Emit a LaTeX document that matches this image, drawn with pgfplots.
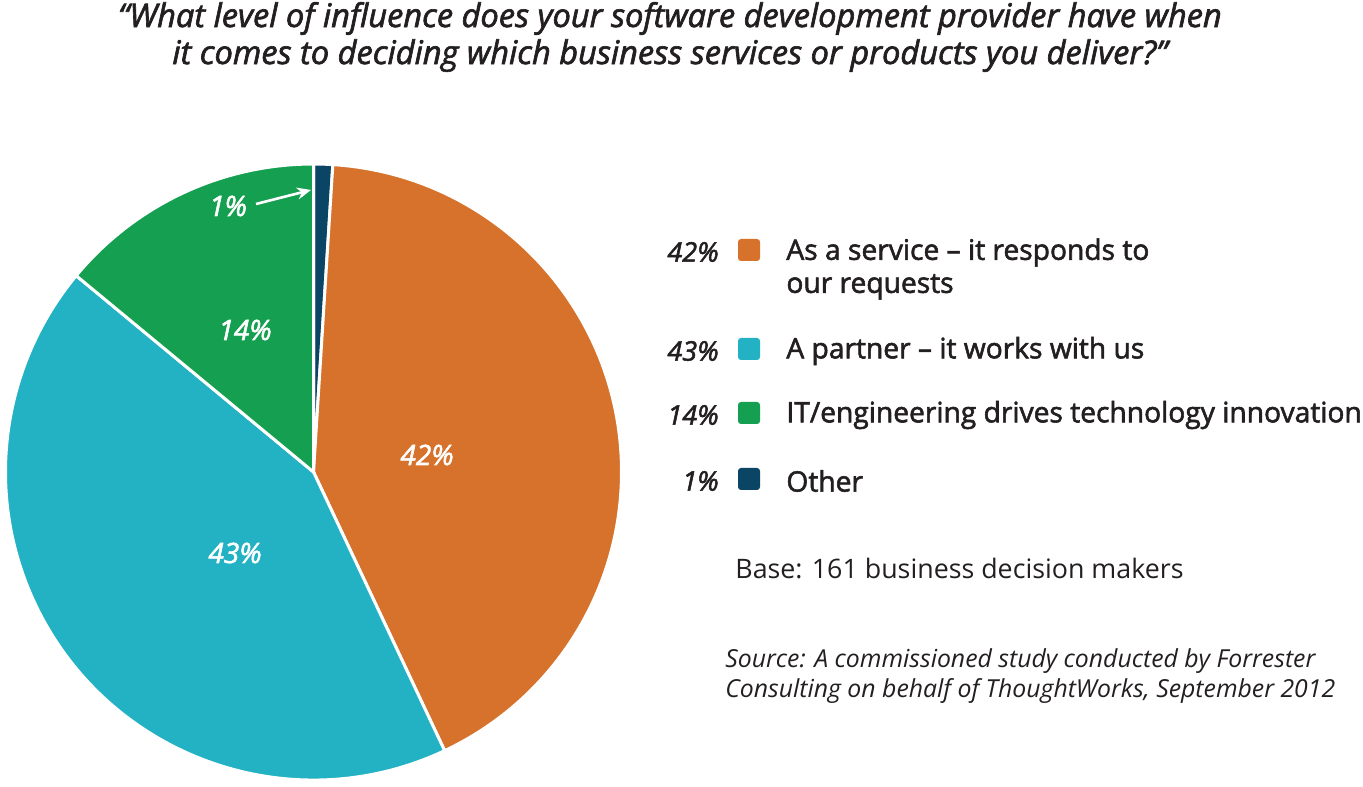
\documentclass[border=0pt]{standalone}
\usepackage{fontspec}
\setmainfont{Open Sans}
\newfontfamily\semi[FakeBold=2]{Open Sans}
\usepackage{pgfplots}
\pgfplotsset{compat=1.18}
\usetikzlibrary{arrows.meta}
\definecolor{cOrange}{HTML}{D6722B}
\definecolor{cTeal}{HTML}{22B2C4}
\definecolor{cGreen}{HTML}{159F50}
\definecolor{cNavy}{HTML}{0B4566}
\definecolor{txt}{HTML}{231F20}
\begin{document}
\begin{tikzpicture}[x=0.5pt,y=0.5pt]
\path[use as bounding box] (0,0) rectangle (1363,786);
\begin{axis}[at={(156.75pt,157pt)}, anchor=center, width=308pt, height=308pt,
  scale only axis, hide axis, xmin=-1, xmax=1, ymin=-1, ymax=1, clip=false]
% shares (percent), clockwise from 12 o'clock: Other 1, Service 42, Partner 43, IT 14
\fill[cNavy, draw=white, line width=1.5pt] (axis cs:0,0) -- (axis cs:{cos(90)},{sin(90)})
  arc[start angle=90, delta angle={-3.6*1}, radius=154pt] -- cycle;
\fill[cOrange, draw=white, line width=1.5pt] (axis cs:0,0) -- (axis cs:{cos(90-3.6*1)},{sin(90-3.6*1)})
  arc[start angle={90-3.6*1}, delta angle={-3.6*42}, radius=154pt] -- cycle;
\fill[cTeal, draw=white, line width=1.5pt] (axis cs:0,0) -- (axis cs:{cos(90-3.6*43)},{sin(90-3.6*43)})
  arc[start angle={90-3.6*43}, delta angle={-3.6*43}, radius=154pt] -- cycle;
\fill[cGreen, draw=white, line width=1.5pt] (axis cs:0,0) -- (axis cs:{cos(90-3.6*86)},{sin(90-3.6*86)})
  arc[start angle={90-3.6*86}, delta angle={-3.6*14}, radius=154pt] -- cycle;
\end{axis}
% title
\node[txt, align=center, font=\semi\itshape\fontsize{16.3}{18.5}\selectfont] at (670,749)
  {“What level of influence does your software development provider have when\\it comes to deciding which business services or products you deliver?”};
% pie labels
\begin{scope}[every node/.style={text=white, font=\semi\itshape\fontsize{14}{15}\selectfont}]
\node at (427,331) {42\%};
\node at (235,233) {43\%};
\node at (245,456) {14\%};
\node at (228,580) {1\%};
\end{scope}
\draw[white, line width=1.3pt, -{Stealth[length=7pt,width=6pt]}] (256,582) -- (311,596);
% legend
\begin{scope}[every node/.style={text=txt}]
\node[anchor=east, inner sep=0pt, font=\semi\itshape\fontsize{13.5}{15}\selectfont] at (719,534) {42\%};
\node[anchor=east, inner sep=0pt, font=\semi\itshape\fontsize{13.5}{15}\selectfont] at (719,435) {43\%};
\node[anchor=east, inner sep=0pt, font=\semi\itshape\fontsize{13.5}{15}\selectfont] at (719,371) {14\%};
\node[anchor=east, inner sep=0pt, font=\semi\itshape\fontsize{13.5}{15}\selectfont] at (719,305) {1\%};
\fill[cOrange, rounded corners=1.5pt] (738,525) rectangle (760,547);
\fill[cTeal, rounded corners=1.5pt] (738,426) rectangle (760,448);
\fill[cGreen, rounded corners=1.5pt] (738,362) rectangle (760,384);
\fill[cNavy, rounded corners=1.5pt] (738,296) rectangle (760,318);
\node[anchor=north west, align=left, inner sep=0pt, font=\semi\fontsize{14.1}{16.5}\selectfont] at (786,548)
  {As a service – it responds to\\our requests};
\node[anchor=west, inner sep=0pt, font=\semi\fontsize{14.1}{15}\selectfont] at (786,435) {A partner – it works with us};
\node[anchor=west, inner sep=0pt, font=\semi\fontsize{14.1}{15}\selectfont] at (786,371) {IT/engineering drives technology innovation};
\node[anchor=west, inner sep=0pt, font=\semi\fontsize{14.1}{15}\selectfont] at (786,305) {Other};
\node[anchor=west, inner sep=0pt, font=\fontsize{13.4}{15}\selectfont] at (735,217) {Base: 161 business decision makers};
\node[anchor=north west, align=left, inner sep=0pt, font=\itshape\fontsize{12.4}{15}\selectfont] at (725,138)
  {Source: A commissioned study conducted by Forrester\\Consulting on behalf of ThoughtWorks, September 2012};
\end{scope}
\end{tikzpicture}
\end{document}
